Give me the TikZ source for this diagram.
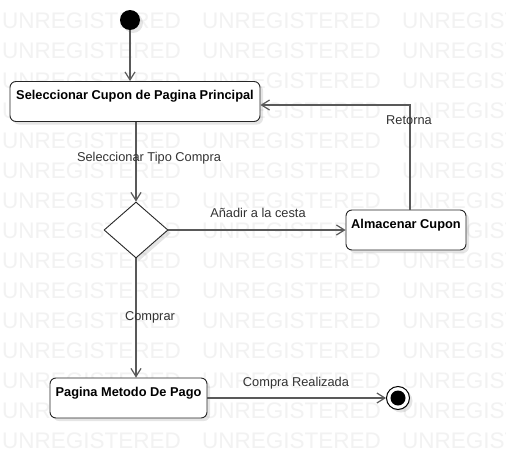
\documentclass[tikz,border=0pt]{standalone}
\usepackage{fontspec}
\setmainfont{Liberation Sans}
\usetikzlibrary{arrows.meta,shapes.geometric,shadows,calc}
\begin{document}
\begin{tikzpicture}[x=1pt,y=-1pt,
  every node/.style={font=\fontsize{12.8}{15}\selectfont},
  wm/.style={font=\fontsize{22.5}{24}\selectfont, text=black!5, anchor=base west, inner sep=0pt},
  shad/.style={drop shadow={shadow xshift=3pt, shadow yshift=-3pt, opacity=0.10, fill=black}},
  state/.style={draw=black!85, line width=0.9pt, rounded corners=6pt, fill=white, inner sep=0pt, shad},
  stlabel/.style={font=\fontsize{12.8}{15}\selectfont\bfseries, anchor=north, inner sep=0pt, yshift=-9pt},
  decision/.style={diamond, draw=black!85, line width=0.9pt, fill=white, inner sep=0pt, minimum width=64pt, minimum height=56pt, aspect=1.14, shad},
  conn/.style={draw=black!65, line width=1.2pt, -{Straight Barb[length=8pt,width=10pt]}},
  elabel/.style={text=black!80, inner sep=0pt}
]
\useasboundingbox (0,0) rectangle (506,458);
\fill[white] (0,0) rectangle (506,458);
% watermark
\begin{scope}
\clip (0,0) rectangle (506,458);
\foreach \r in {0,...,14}{
  \foreach \c in {0,1,2}{
    \node[wm] (wm-\r-\c) at ({2+200*\c},{28+30*\r}) {UNREGISTERED};
  }
}
\end{scope}
% nodes
\node[circle, fill=black, inner sep=0pt, minimum size=20pt, shad] (init) at (130,20) {};
\node[state, minimum width=250pt, minimum height=40pt,
  label={[stlabel]north:Seleccionar Cupon de Pagina Principal}] (sel) at (135,101.5) {};
\node[decision] (dia) at (136,230) {};
\node[state, minimum width=120pt, minimum height=40pt,
  label={[stlabel]north:Almacenar Cupon}] (alm) at (406,230) {};
\node[state, minimum width=157pt, minimum height=40pt,
  label={[stlabel]north:Pagina Metodo De Pago}] (pag) at (128.5,398) {};
\node[circle, draw=black, line width=1pt, fill=white, inner sep=0pt, minimum size=23pt, shad] (fin) at (398,398) {};
\node[circle, fill=black, inner sep=0pt, minimum size=15pt] (finin) at (fin.center) {};
% connectors
\draw[conn] (init) -- (init |- sel.north);
\draw[conn] (dia.north |- sel.south) -- (dia.north);
\draw[conn] (dia.east) -- (alm.west);
\draw[conn] ($(alm.north)+(4,0)$) |- ($(sel.east)+(0,3.5)$);
\draw[conn] (dia.south) -- (dia.south |- pag.north);
\draw[conn] (pag.east) -- (fin.west);
% edge labels
\node[elabel] (l1) at (149,158) {Seleccionar Tipo Compra};
\node[elabel] (l2) at (258,213) {Añadir a la cesta};
\node[elabel] (l3) at (409,120) {Retorna};
\node[elabel] (l4) at (150,317) {Comprar};
\node[elabel] (l5) at (296,383) {Compra Realizada};
\end{tikzpicture}
\end{document}
